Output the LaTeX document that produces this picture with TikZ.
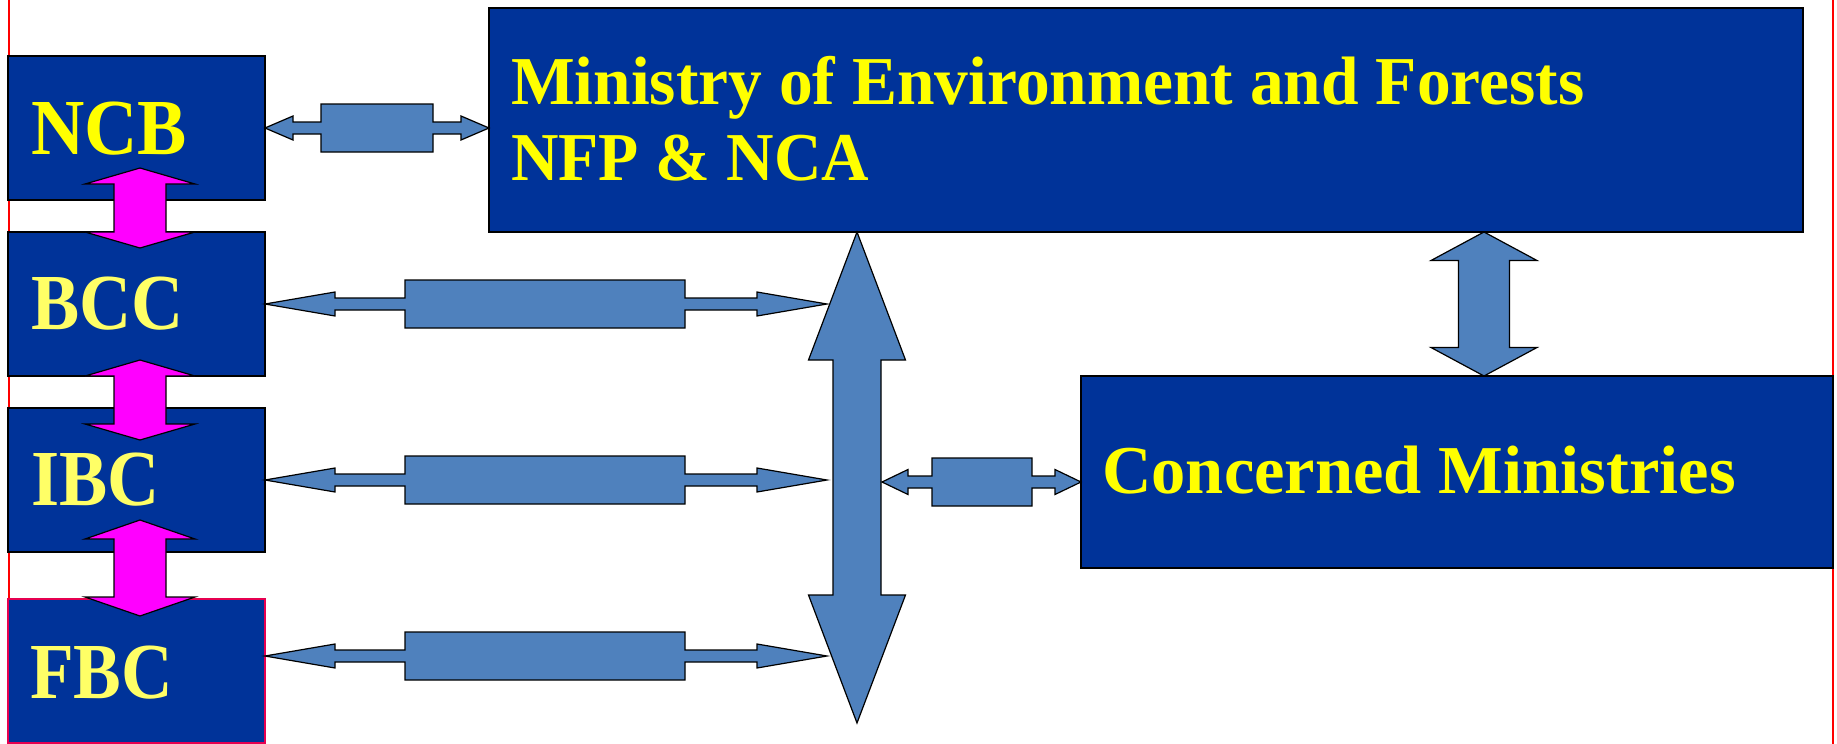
\documentclass[tikz,border=0pt]{standalone}
\usepackage{fontspec}
\setmainfont{Liberation Serif}
\usetikzlibrary{calc}
\definecolor{boxblue}{RGB}{0,51,153}
\definecolor{arrowblue}{RGB}{79,129,189}
\definecolor{lblyellow}{RGB}{255,255,0}
\definecolor{paleyellow}{RGB}{255,255,102}
\definecolor{slidered}{RGB}{255,0,0}
\definecolor{fbcred}{RGB}{230,0,80}
\definecolor{pinkfill}{RGB}{255,0,255}
% horizontal double arrow with a middle body
% #1 style, #2 left tip, #3 right tip, #4 head length, #5 head half height,
% #6 shaft half height, #7 body start from left tip, #8 body end from right tip, #9 body half height
\newcommand\hdarrow[9][]{%
  \draw[#1] let \p1=(#2), \p2=(#3) in
    (\x1,\y1) -- (\x1+#4pt,\y1+#5pt) -- (\x1+#4pt,\y1+#6pt) -- (\x1+#7pt,\y1+#6pt)
    -- (\x1+#7pt,\y1+#9pt) -- (\x2-#8pt,\y1+#9pt) -- (\x2-#8pt,\y1+#6pt)
    -- (\x2-#4pt,\y1+#6pt) -- (\x2-#4pt,\y1+#5pt) -- (\x2,\y1)
    -- (\x2-#4pt,\y1-#5pt) -- (\x2-#4pt,\y1-#6pt) -- (\x2-#8pt,\y1-#6pt)
    -- (\x2-#8pt,\y1-#9pt) -- (\x1+#7pt,\y1-#9pt) -- (\x1+#7pt,\y1-#6pt)
    -- (\x1+#4pt,\y1-#6pt) -- (\x1+#4pt,\y1-#5pt) -- cycle;}
% vertical double arrow: #1 style, #2 top tip, #3 bottom tip, #4 head length, #5 head half width, #6 shaft half width
\newcommand\vdarrow[6][]{%
  \draw[#1] let \p1=(#2), \p2=(#3) in
    (\x1,\y1) -- (\x1+#5pt,\y1-#4pt) -- (\x1+#6pt,\y1-#4pt) -- (\x1+#6pt,\y2+#4pt)
    -- (\x1+#5pt,\y2+#4pt) -- (\x1,\y2) -- (\x1-#5pt,\y2+#4pt) -- (\x1-#6pt,\y2+#4pt)
    -- (\x1-#6pt,\y1-#4pt) -- (\x1-#5pt,\y1-#4pt) -- cycle;}
\begin{document}
\begin{tikzpicture}[x=1pt,y=-1pt,
  box/.style={draw=black, fill=boxblue, line width=1.3pt, inner sep=0pt, outer sep=0pt, anchor=north west},
  bluearrow/.style={draw=black, fill=arrowblue, line width=1.2pt, line join=miter},
  pinkarrow/.style={draw=black, fill=pinkfill, line width=1.2pt, line join=miter},
  bigtext/.style={font=\bfseries\fontsize{68.5}{76}\selectfont, text=lblyellow, inner sep=0pt, anchor=base west},
  lbltext/.style={font=\bfseries\fontsize{79.4}{90}\selectfont, inner sep=0pt, anchor=base west},
  frameline/.style={draw=slidered, line width=2pt}]
\useasboundingbox (0,0) rectangle (1837,744);
% slide frame lines
\draw[frameline] (8.5,0) -- (8.5,744);
\draw[frameline] (1832.5,0) -- (1832.5,744);
% boxes
\node[box, minimum width=257pt, minimum height=144pt] (ncb) at (8,56) {};
\node[box, minimum width=257pt, minimum height=144pt] (bcc) at (8,232) {};
\node[box, minimum width=257pt, minimum height=144pt] (ibc) at (8,408) {};
\node[box, draw=fbcred, minimum width=257pt, minimum height=144pt] (fbc) at (8,599) {};
\node[box, minimum width=1314pt, minimum height=224pt] (min) at (489,8) {};
\node[box, minimum width=752pt, minimum height=192pt] (cm) at (1081,376) {};
% labels
\node[lbltext, text=lblyellow] (ncbT) at (31,154) {\scalebox{0.93}[1]{NCB}};
\node[lbltext, text=paleyellow] (bccT) at (31,329) {\scalebox{0.91}[1]{BCC}};
\node[lbltext, text=paleyellow] (ibcT) at (31,505) {\scalebox{0.91}[1]{IBC}};
\node[lbltext, text=paleyellow] (fbcT) at (30,698) {\scalebox{0.9}[1]{FBC}};
\node[bigtext] (minT1) at (511,104) {\scalebox{0.985}[1]{Ministry of Environment and Forests}};
\node[bigtext] (minT2) at (511,180) {\scalebox{0.96}[1]{NFP \& NCA}};
\node[bigtext] (cmT) at (1102,493) {Concerned Ministries};
% helper coordinates
\coordinate (bigT) at (857,232);
\coordinate (bigB) at (857,723);
\coordinate (bigL) at (827,0);
\coordinate (bigR) at (882,0);
\coordinate (mcx) at (1484,0);
\coordinate (fbcA) at ($(fbc.north east)+(0,57)$);
\coordinate (cmA) at ($(cm.north west)+(0,106)$);
\coordinate (p1a) at (140,168);
\coordinate (p1b) at (140,248);
\coordinate (p2a) at (140,360);
\coordinate (p2b) at (140,440);
\coordinate (p3a) at (140,520);
\coordinate (p3b) at (140,616);
% blue connectors
\vdarrow[bluearrow]{bigT}{bigB}{128}{48.5}{24}
\hdarrow[bluearrow]{ncb.east}{min.west |- ncb.east}{28}{12}{6}{56}{56}{24}
\hdarrow[bluearrow]{bcc.east}{bigL |- bcc.east}{70}{12}{6}{140}{142}{24}
\hdarrow[bluearrow]{ibc.east}{bigL |- ibc.east}{70}{12}{6}{140}{142}{24}
\hdarrow[bluearrow]{fbcA}{bigL |- fbcA}{70}{12}{6}{140}{142}{24}
\hdarrow[bluearrow]{bigR |- cmA}{cmA}{26}{12.5}{6}{50}{49}{24}
\vdarrow[bluearrow]{min.south -| mcx}{cm.north -| mcx}{28.5}{53}{25.5}
% magenta connectors
\vdarrow[pinkarrow]{p1a}{p1b}{16}{55}{26}
\vdarrow[pinkarrow]{p2a}{p2b}{16}{55}{26}
\vdarrow[pinkarrow]{p3a}{p3b}{19}{55}{26}
\end{tikzpicture}
\end{document}
